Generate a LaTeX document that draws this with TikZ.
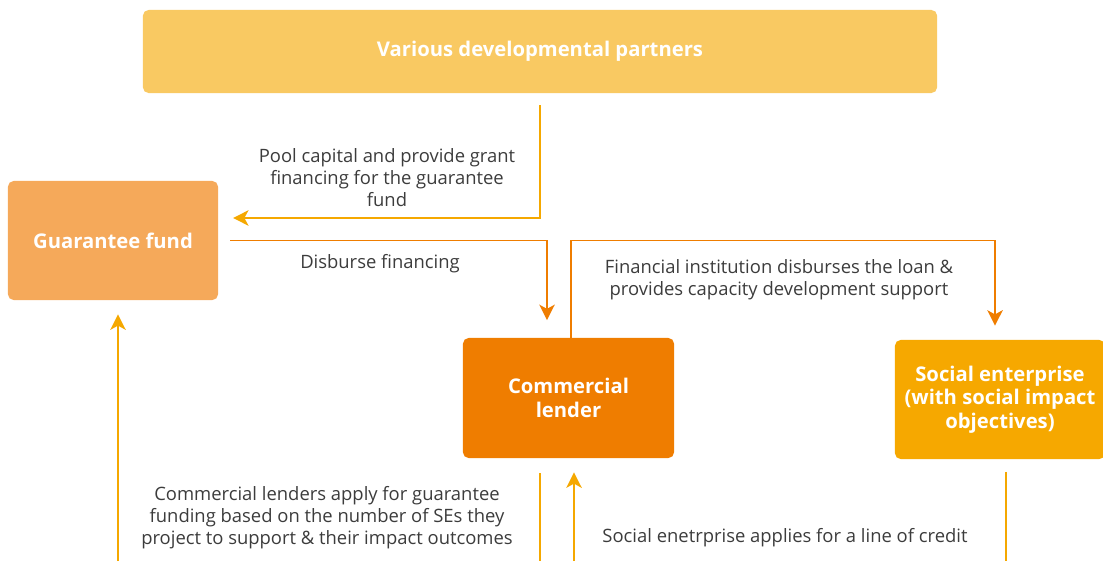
\documentclass[tikz,border=0pt]{standalone}
\usepackage{fontspec}
\setmainfont{Open Sans}
\usepackage{xcolor}
\usetikzlibrary{arrows.meta,positioning}
\definecolor{partnerfill}{HTML}{F9C962}
\definecolor{fundfill}{HTML}{F5A95A}
\definecolor{lenderfill}{HTML}{EF7D00}
\definecolor{socialfill}{HTML}{F6A800}
\definecolor{linkyellow}{HTML}{F5A800}
\definecolor{linkorange}{HTML}{EF7D00}
\definecolor{body}{HTML}{3C3C3C}

\begin{document}
\begin{tikzpicture}[x=0.025cm, y=-0.025cm,
  box/.style={rounded corners=4pt, inner sep=0pt, align=center, text=white,
    font=\fontsize{14.4}{16.8}\selectfont\bfseries},
  note/.style={align=center, text=body, font=\fontsize{13.1}{15.6}\selectfont},
  link/.style={line width=1.4pt},
  flow/.style={link, -{Stealth[length=11pt,width=11pt,inset=3pt]}}]
  \useasboundingbox (0,0) rectangle (1103,561);

  % actors
  \node[box, fill=partnerfill, minimum width=19.85cm, minimum height=2.075cm] (partners) at (540,51.5) {\raisebox{-2pt}{Various developmental partners}};
  \node[box, fill=fundfill, minimum width=5.25cm, minimum height=2.975cm] (fund) at (113,240.5) {\raisebox{-1.5pt}{Guarantee fund}};
  \node[box, fill=lenderfill, minimum width=5.275cm, minimum height=3cm] (lender) at (568.5,398) {Commercial\\lender};
  \node[box, fill=socialfill, minimum width=5.25cm, minimum height=2.975cm] (social) at (1000,399.5) {Social enterprise\\(with social impact\\objectives)};

  % flows between them
  \draw[flow, linkyellow, shorten <=8.5pt, shorten >=10.5pt] (partners.south) |- ([yshift=0.5625cm]fund.east);
  \draw[flow, linkorange, shorten <=8.5pt, shorten >=12.5pt] (fund.east) -| ([xshift=-0.5375cm]lender.north);
  \draw[flow, linkorange, shorten >=10pt] ([xshift=0.06cm]lender.north) -- ([xshift=0.06cm]lender.north |- fund.east) -| ([xshift=-0.125cm]social.north);

  \coordinate (fundin) at (118,561);
  \coordinate (lenderout) at (540,561);
  \coordinate (lenderin) at (574,561);
  \coordinate (socialout) at (1006,561);
  \draw[flow, linkyellow, shorten >=10pt] (fundin) -- (fundin |- fund.south);
  \draw[link, linkyellow, shorten <=10.5pt] (lenderout |- lender.south) -- (lenderout);
  \draw[flow, linkyellow, shorten >=10pt] (lenderin) -- (lenderin |- lender.south);
  \draw[link, linkyellow, shorten <=9pt] (socialout |- social.south) -- (socialout);

  % labels
  \node[note] (poolnote) at (387,177.5) {Pool capital and provide grant\\financing for the guarantee\\fund};
  \node[note] (disbursenote) at (380,263.5) {Disburse financing};
  \node[note] (loannote) at (779,279.5) {Financial institution disburses the loan \&\\provides capacity development support};
  \node[note] (applynote) at (327,517.5) {Commercial lenders apply for guarantee\\funding based on the number of SEs they\\project to support \& their impact outcomes};
  \node[note] (creditnote) at (785,537.5) {Social enetrprise applies for a line of credit};
\end{tikzpicture}
\end{document}
